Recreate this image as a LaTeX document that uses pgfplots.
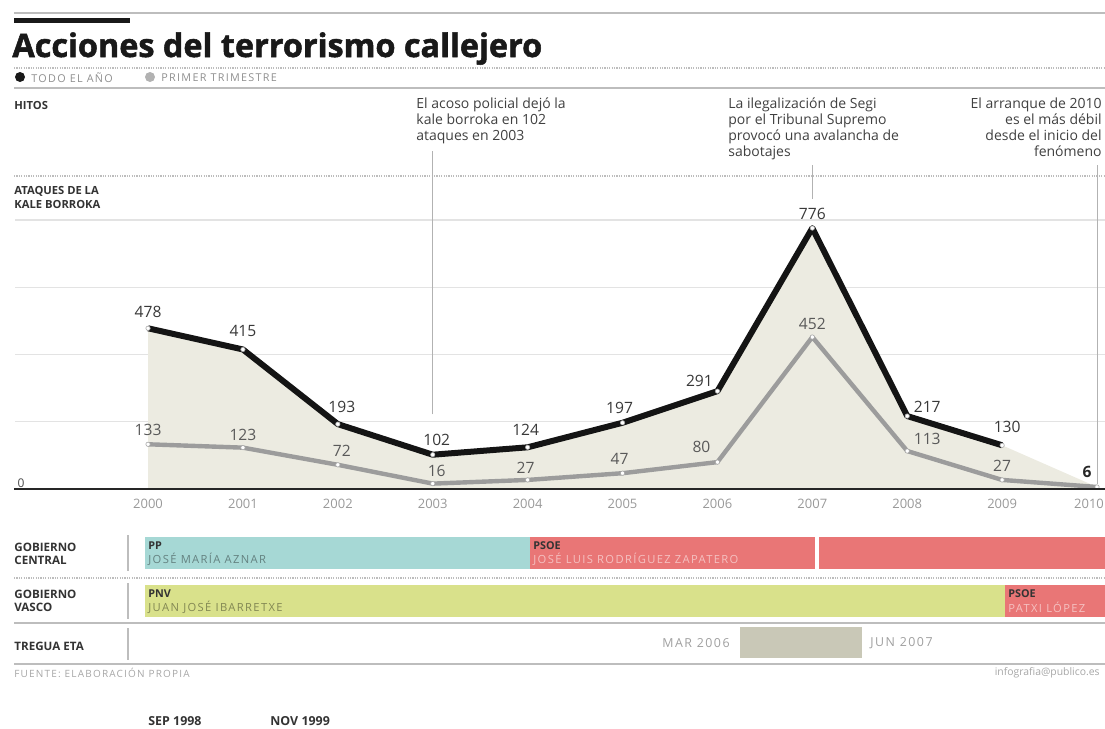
\documentclass[border=0pt]{standalone}
\usepackage{pgfplots}
\pgfplotsset{compat=1.18}
\usepackage{fontspec}
\setmainfont{Open Sans}
\newfontfamily\spaced[LetterSpace=12]{Open Sans}
\newfontfamily\titlefont[BoldFeatures={FakeBold=1.6}]{Open Sans}
\definecolor{fillbeige}{HTML}{ECEBE1}
\definecolor{greyline}{HTML}{9C9C9C}
\definecolor{ppcyan}{HTML}{A6D8D5}
\definecolor{psoered}{HTML}{E97676}
\definecolor{pnvgreen}{HTML}{D9E18B}
\definecolor{tregua}{HTML}{C9C8B7}
\definecolor{rulec}{HTML}{BDBDBD}
\definecolor{txt}{HTML}{333333}
\definecolor{lighttxt}{HTML}{8F8F8F}
\begin{document}
\begin{tikzpicture}
% ---------- header and frame (pixel coordinates) ----------
\begin{scope}[x=0.5pt,y=-0.5pt]
\draw[rulec, line width=0.7pt] (14,13) -- (1105,13);
\fill[black!90] (14,18) rectangle (130,23);
\node[anchor=base west, inner sep=0, font=\titlefont\fontsize{16.2}{18}\selectfont\bfseries, text=black!90] at (12,57) {Acciones del terrorismo callejero};
\draw[rulec, line width=0.6pt, dash pattern=on 0.6pt off 0.6pt] (14,68) -- (1105,68);
\fill[black!90] (20,77) circle (5);
\node[anchor=west, inner sep=0, font=\spaced\fontsize{5.4}{6}\selectfont, text=lighttxt] at (31,77.5) {TODO EL AÑO};
\fill[gray!60] (150,77) circle (5);
\node[anchor=west, inner sep=0, font=\spaced\fontsize{5.4}{6}\selectfont, text=lighttxt] at (161,77.5) {PRIMER TRIMESTRE};
\draw[rulec, line width=0.7pt] (14,88) -- (1105,88);
\node[anchor=west, inner sep=0, font=\fontsize{5.6}{6.5}\selectfont\bfseries, text=txt] at (14,105) {HITOS};
\node[anchor=north west, align=left, inner sep=0, font=\fontsize{7}{8}\selectfont, text=black!75] at (416,97) {El acoso policial dejó la\\kale borroka en 102\\ataques en 2003};
\node[anchor=north west, align=left, inner sep=0, font=\fontsize{7}{8}\selectfont, text=black!75] at (728,97) {La ilegalización de Segi\\por el Tribunal Supremo\\provocó una avalancha de\\sabotajes};
\node[anchor=north east, align=right, inner sep=0, font=\fontsize{7}{8}\selectfont, text=black!75] at (1102,97) {El arranque de 2010\\es el más débil\\desde el inicio del\\fenómeno};
\draw[rulec, line width=0.6pt, dash pattern=on 0.6pt off 0.6pt] (14,176) -- (1105,176);
\node[anchor=north west, align=left, inner sep=0, font=\fontsize{5.6}{7}\selectfont\bfseries, text=txt] at (14,186) {ATAQUES DE LA\\KALE BORROKA};
\end{scope}
% ---------- main chart ----------
\begin{axis}[
  at={(7.5pt,-244.5pt)}, anchor=south west,
  scale only axis, width=545pt, height=134.5pt,
  xmin=1998.598, xmax=2010.084, ymin=0, ymax=800,
  axis line style={draw=none},
  xtick={2000,2001,...,2009}, ytick={200,400,600,800}, yticklabels={},
  extra x ticks={2010}, extra x tick style={xticklabel style={xshift=-4pt}, grid=none},
  ymajorgrids, grid style={draw=gray!22, line width=0.7pt},
  major tick length=0pt,
  xticklabel style={font=\fontsize{6.5}{7}\selectfont, text=gray!80, yshift=-1.5pt},
  /pgf/number format/assume math mode=true,
  /pgf/number format/1000 sep={},
  clip=false,
]
\addplot[fill=fillbeige, draw=none] coordinates {(2000,0) (2000,478) (2001,415) (2002,193) (2003,102) (2004,124) (2005,197) (2006,291) (2007,776) (2008,217) (2009,130) (2010,6) (2010,0)} -- cycle;
\draw[gray!60, line width=0.4pt] (axis cs:2003,222) -- (axis cs:2003,1005);
\draw[gray!60, line width=0.4pt] (axis cs:2007,862) -- (axis cs:2007,963);
\draw[gray!60, line width=0.4pt] (axis cs:2010,14) -- (axis cs:2010,963);
\addplot[greyline, line width=2.2pt, line join=round, mark=*, mark size=1.1pt, mark options={fill=white, draw=gray!70, line width=0.3pt}] coordinates {(2000,133) (2001,123) (2002,72) (2003,16) (2004,27) (2005,47) (2006,80) (2007,452) (2008,113) (2009,27) (2010,6)};
\addplot[black!92, line width=3pt, line join=round, mark=*, mark size=1.1pt, mark options={fill=white, draw=gray!70, line width=0.3pt}] coordinates {(2000,478) (2001,415) (2002,193) (2003,102) (2004,124) (2005,197) (2006,291) (2007,776) (2008,217) (2009,130)};
% value labels
\tikzset{vb/.style={font=\fontsize{7.8}{8}\selectfont, text=black!78, inner sep=0}, vg/.style={font=\fontsize{7.8}{8}\selectfont, text=black!65, inner sep=0}}
\node[vb] at ([yshift=8pt]axis cs:2000,478) {478};
\node[vb] at ([yshift=9pt]axis cs:2001,415) {415};
\node[vb] at ([xshift=2pt,yshift=8.5pt]axis cs:2002,193) {193};
\node[vb] at ([xshift=2pt,yshift=7.5pt]axis cs:2003,102) {102};
\node[vb] at ([xshift=-1pt,yshift=8.5pt]axis cs:2004,124) {124};
\node[vb] at ([xshift=-1.5pt,yshift=7.5pt]axis cs:2005,197) {197};
\node[vb] at ([xshift=-9pt,yshift=5pt]axis cs:2006,291) {291};
\node[vb] at ([yshift=7pt]axis cs:2007,776) {776};
\node[vb] at ([xshift=10pt,yshift=4.5pt]axis cs:2008,217) {217};
\node[vb] at ([xshift=2.5pt,yshift=9pt]axis cs:2009,130) {130};
\node[vg] at ([yshift=7pt]axis cs:2000,133) {133};
\node[vg] at ([yshift=6.5pt]axis cs:2001,123) {123};
\node[vg] at ([xshift=2pt,yshift=7pt]axis cs:2002,72) {72};
\node[vg] at ([xshift=2pt,yshift=6.5pt]axis cs:2003,16) {16};
\node[vg] at ([xshift=-1pt,yshift=6pt]axis cs:2004,27) {27};
\node[vg] at ([xshift=-1.5pt,yshift=7pt]axis cs:2005,47) {47};
\node[vg] at ([xshift=-8pt,yshift=7.5pt]axis cs:2006,80) {80};
\node[vg] at ([yshift=6.5pt]axis cs:2007,452) {452};
\node[vg] at ([xshift=10pt,yshift=6pt]axis cs:2008,113) {113};
\node[vg] at ([yshift=7pt]axis cs:2009,27) {27};
\node[font=\fontsize{7.8}{8}\selectfont\bfseries, text=black!85, inner sep=0] at ([xshift=-5pt,yshift=7.5pt]axis cs:2010,6) {6};
\end{axis}
% ---------- government timeline ----------
\begin{axis}[
  at={(7.5pt,-332.5pt)}, anchor=south west,
  scale only axis, width=545pt, height=69pt,
  xmin=1998.598, xmax=2010.084, ymin=527, ymax=665, y dir=reverse,
  hide axis, clip=false,
]
\addplot[fill=ppcyan, draw=none] coordinates {(1999.968,537) (2004.025,537) (2004.025,569) (1999.968,569)} -- cycle;
\addplot[fill=psoered, draw=none] coordinates {(2004.025,537) (2007.030,537) (2007.030,569) (2004.025,569)} -- cycle;
\addplot[fill=psoered, draw=none] coordinates {(2007.072,537) (2010.084,537) (2010.084,569) (2007.072,569)} -- cycle;
\addplot[fill=pnvgreen, draw=none] coordinates {(1999.968,585) (2009.030,585) (2009.030,617) (1999.968,617)} -- cycle;
\addplot[fill=psoered, draw=none] coordinates {(2009.030,585) (2010.084,585) (2010.084,617) (2009.030,617)} -- cycle;
\addplot[fill=tregua, draw=none] coordinates {(2006.238,627) (2007.524,627) (2007.524,658) (2006.238,658)} -- cycle;
\end{axis}
% ---------- lower texts and rules ----------
\begin{scope}[x=0.5pt,y=-0.5pt]
\draw[black!85, line width=1pt] (14,489) -- (1105,489);
\node[font=\fontsize{6}{6}\selectfont, text=black!70, inner sep=0] at (21,483) {0};
\tikzset{rowlab/.style={anchor=west, align=left, inner sep=0, font=\fontsize{5.8}{6.6}\selectfont\bfseries, text=txt},
  party/.style={anchor=west, inner sep=0, font=\fontsize{5.4}{6}\selectfont\bfseries, text=black!80},
  pname/.style={anchor=west, inner sep=0, font=\spaced\fontsize{5.6}{6}\selectfont}}
\node[rowlab] at (14,553.5) {GOBIERNO\\CENTRAL};
\node[rowlab] at (14,600.5) {GOBIERNO\\VASCO};
\node[rowlab] at (14,646) {TREGUA ETA};
\draw[rulec, line width=0.6pt] (128,535) -- (128,571);
\draw[rulec, line width=0.6pt] (128,583) -- (128,619);
\draw[rulec, line width=0.6pt] (128,628) -- (128,660);
\draw[rulec, line width=0.6pt, dash pattern=on 0.6pt off 0.6pt] (14,578) -- (1105,578);
\draw[rulec, line width=0.7pt] (14,623) -- (1105,623);
\draw[rulec, line width=0.7pt] (14,664) -- (1105,664);
\node[party] at (148,546) {PP};
\node[pname, text=black!40!ppcyan] at (148,559) {JOSÉ MARÍA AZNAR};
\node[party] at (533,546) {PSOE};
\node[pname, text=white!55!psoered] at (533,559) {JOSÉ LUIS RODRÍGUEZ ZAPATERO};
\node[party] at (148,594) {PNV};
\node[pname, text=black!40!pnvgreen] at (148,607) {JUAN JOSÉ IBARRETXE};
\node[party] at (1008,594) {PSOE};
\node[pname, text=white!55!psoered] at (1008,607) {PATXI LÓPEZ};
\node[anchor=east, inner sep=0, font=\spaced\fontsize{6.2}{7}\selectfont, text=gray!75] at (730,643) {MAR 2006};
\node[anchor=west, inner sep=0, font=\spaced\fontsize{6.2}{7}\selectfont, text=gray!75] at (870,643) {JUN 2007};
\node[anchor=west, inner sep=0, font=\spaced\fontsize{5}{6}\selectfont, text=gray!70] at (14,673) {FUENTE: ELABORACIÓN PROPIA};
\node[anchor=east, inner sep=0, font=\fontsize{5.2}{6}\selectfont, text=gray!70] at (1100,673) {infografia@publico.es};
\node[anchor=west, inner sep=0, font=\fontsize{6.2}{7}\selectfont\bfseries, text=txt] at (148,721) {SEP 1998};
\node[anchor=west, inner sep=0, font=\fontsize{6.2}{7}\selectfont\bfseries, text=txt] at (270,721) {NOV 1999};
\pgfresetboundingbox
\useasboundingbox (0,0) rectangle (1105,729);
\end{scope}
\end{tikzpicture}
\end{document}
